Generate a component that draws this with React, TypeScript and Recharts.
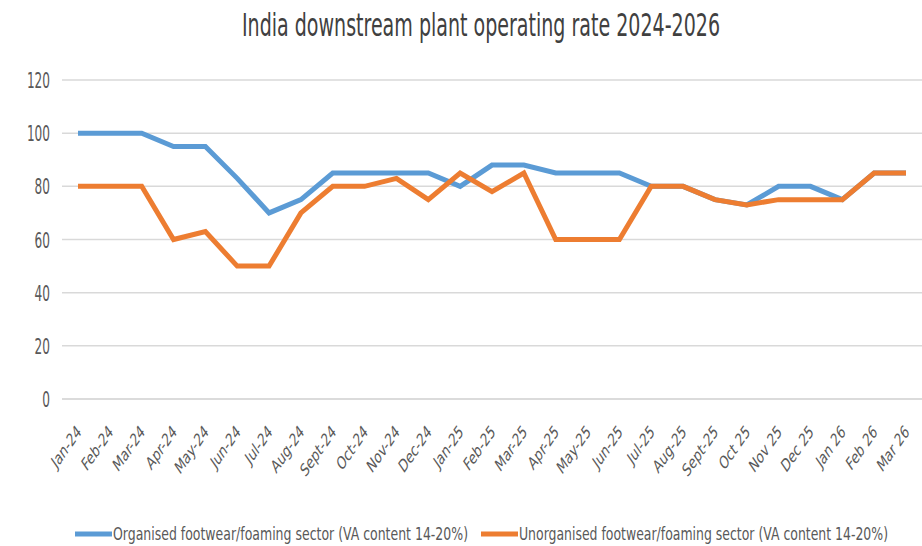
import { useLayoutEffect, useRef, useState } from "react";
import { LineChart, Line, XAxis, YAxis, CartesianGrid, Legend } from "recharts";

const months = [
  "Jan-24", "Feb-24", "Mar-24", "Apr-24", "May-24", "Jun-24", "Jul-24", "Aug-24", "Sept-24",
  "Oct-24", "Nov-24", "Dec-24", "Jan-25", "Feb-25", "Mar-25", "Apr-25", "May-25", "Jun-25",
  "Jul-25", "Aug-25", "Sept-25", "Oct 25", "Nov 25", "Dec 25", "Jan 26", "Feb 26", "Mar 26",
];
const organised = [100, 100, 100, 95, 95, 83, 70, 75, 85, 85, 85, 85, 80, 88, 88, 85, 85, 85, 80, 80, 75, 73, 80, 80, 75, 85, 85];
const unorganised = [80, 80, 80, 60, 63, 50, 50, 70, 80, 80, 83, 75, 85, 78, 85, 60, 60, 60, 80, 80, 75, 73, 75, 75, 75, 85, 85];
const yTicks = [0, 20, 40, 60, 80, 100, 120];

const TITLE = "India downstream plant operating rate 2024-2026";
const ORG_NAME = "Organised footwear/foaming sector (VA content 14-20%)";
const UNORG_NAME = "Unorganised footwear/foaming sector (VA content 14-20%)";

const BLUE = "#5b9bd5";
const ORANGE = "#ed7d31";
const TEXT = "#595959";
const FONT = "'DejaVu Sans Condensed', 'Liberation Sans Narrow', Arial, sans-serif";

const data = months.map((m, i) => ({ month: m, organised: organised[i], unorganised: unorganised[i] }));

// the reference is horizontally squeezed, so text is drawn then scaled to a target width
function FitText({ x, y, width, anchor = "start", fontSize, fill = TEXT, children }: any) {
  const ref = useRef<SVGTextElement>(null);
  const [sx, setSx] = useState(0.75);
  useLayoutEffect(() => {
    if (!ref.current) return;
    const natural = ref.current.getComputedTextLength();
    if (natural > 0) setSx(width / natural);
  }, [width, children]);
  return (
    <text
      ref={ref}
      transform={`translate(${x},${y}) scale(${sx},1)`}
      textAnchor={anchor}
      fontSize={fontSize}
      fill={fill}
      fontFamily={FONT}
    >
      {children}
    </text>
  );
}

function MonthTick({ x, payload }: any) {
  return (
    <g transform={`translate(${x + 4},433) scale(0.7,1) rotate(-45)`}>
      <text textAnchor="end" fill={TEXT} fontSize={18} fontFamily={FONT}>
        {payload.value}
      </text>
    </g>
  );
}

function ValueTick({ x, y, payload }: any) {
  const label = String(payload.value);
  return <FitText x={x} y={y + 8} width={label.length * 7.7} anchor="end" fontSize={21}>{label}</FitText>;
}

// legend slots: [swatch start, text start, text width]
const legendSlots = [
  [75, 113, 355],
  [481, 519, 369],
];

function LegendRow({ payload }: any) {
  return (
    <svg width={922} height={26} style={{ display: "block" }}>
      {(payload || []).map((entry: any, i: number) => {
        const [sx, tx, tw] = legendSlots[i] || [0, 0, 100];
        return (
          <g key={entry.value}>
            <line x1={sx} x2={tx - 1} y1={16} y2={16} stroke={entry.color} strokeWidth={5} />
            <FitText x={tx} y={22} width={tw} fontSize={17}>{entry.value}</FitText>
          </g>
        );
      })}
    </svg>
  );
}

export default function App() {
  return (
    <div style={{ position: "relative", width: 922, height: 546, background: "#fff" }}>
      <style>{`body{margin:0}`}</style>
      <svg width={922} height={50} style={{ position: "absolute", left: 0, top: 0 }}>
        <FitText x={481} y={36} width={478} anchor="middle" fontSize={32} fill="#404040">
          {TITLE}
        </FitText>
      </svg>
      <LineChart width={922} height={546} data={data} margin={{ top: 80, right: 0, bottom: 2, left: 0 }}>
        <CartesianGrid vertical={false} stroke="#d9d9d9" strokeWidth={1.5} />
        <XAxis
          dataKey="month"
          interval={0}
          padding={{ left: 16, right: 16 }}
          axisLine={{ stroke: "#d9d9d9", strokeWidth: 1.5 }}
          tickLine={false}
          height={119}
          tick={<MonthTick />}
        />
        <YAxis
          width={62}
          domain={[0, 120]}
          ticks={yTicks}
          axisLine={false}
          tickLine={false}
          tickMargin={6}
          tick={<ValueTick />}
        />
        <Legend verticalAlign="bottom" height={26} content={<LegendRow />} />
        <Line
          name={ORG_NAME}
          dataKey="organised"
          stroke={BLUE}
          strokeWidth={5}
          dot={false}
          isAnimationActive={false}
        />
        <Line
          name={UNORG_NAME}
          dataKey="unorganised"
          stroke={ORANGE}
          strokeWidth={5}
          dot={false}
          isAnimationActive={false}
        />
      </LineChart>
    </div>
  );
}
